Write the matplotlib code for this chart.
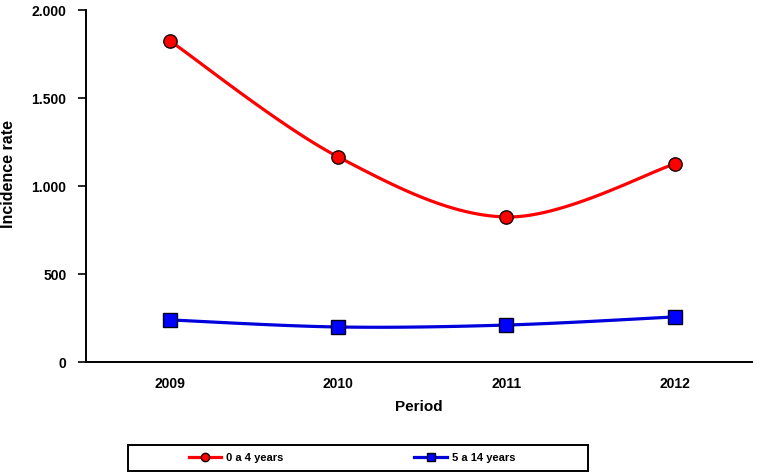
import numpy as np
import matplotlib
matplotlib.use('Agg')
import matplotlib.pyplot as plt
from matplotlib.ticker import FuncFormatter
from matplotlib.lines import Line2D
from matplotlib.patches import Rectangle

#---datos---#
periodos = ['2009', '2010', '2011', '2012']
edad_0_4 = [1824, 1165, 824, 1125]
edad_5_14 = [239, 199, 210, 256]
etiquetas = ['0 a 4 years', '5 a 14 years']

plt.rcParams['font.family'] = ['Liberation Sans', 'DejaVu Sans']
plt.rcParams['font.weight'] = 'bold'


def suavizar(xs, ys, n=30):
    # linea suavizada tipo Excel (Catmull-Rom entre los puntos)
    xs = np.asarray(xs, float)
    ys = np.asarray(ys, float)
    px = np.concatenate([[xs[0]], xs, [xs[-1]]])
    py = np.concatenate([[ys[0]], ys, [ys[-1]]])
    outx, outy = [], []
    for i in range(1, len(px) - 2):
        t = np.linspace(0, 1, n)
        for p, out in ((px, outx), (py, outy)):
            p0, p1, p2, p3 = p[i - 1], p[i], p[i + 1], p[i + 2]
            c1 = p1 + (p2 - p0) / 6
            c2 = p2 - (p3 - p1) / 6
            out.extend((1 - t) ** 3 * p1 + 3 * (1 - t) ** 2 * t * c1
                       + 3 * (1 - t) * t ** 2 * c2 + t ** 3 * p2)
    return np.array(outx), np.array(outy)


fig = plt.figure(figsize=(7.62, 4.75), dpi=100)
ax = fig.add_axes([86 / 762, 1 - 362 / 475, 666 / 762, 352 / 475])

x = np.arange(len(periodos))
sx, sy = suavizar(x, edad_0_4)
ax.plot(sx, sy, color='#ff0000', lw=2.3, zorder=2)
ax.plot(x, edad_0_4, ls='none', marker='o', ms=9.6, mfc='#ff0000',
        mec='#1a0000', mew=1.0, zorder=3)
sx, sy = suavizar(x, edad_5_14)
ax.plot(sx, sy, color='#0000dd', lw=2.3, zorder=2)
ax.plot(x, edad_5_14, ls='none', marker='s', ms=9.6, mfc='#0000ff',
        mec='#00001a', mew=1.0, zorder=3)

ax.set_xlim(-0.5, 3.46)
ax.set_ylim(0, 2000)
ax.set_yticks([0, 500, 1000, 1500, 2000])
ax.yaxis.set_major_formatter(FuncFormatter(lambda v, p: f'{int(v):,}'.replace(',', '.')))
ax.set_xticks(x)
ax.set_xticklabels(periodos)
ax.tick_params(axis='x', length=0, pad=11, labelsize=10)
ax.tick_params(axis='y', length=6, width=1.2, direction='out', pad=8, labelsize=10)

for lado in ['top', 'right']:
    ax.spines[lado].set_visible(False)
for lado in ['left', 'bottom']:
    ax.spines[lado].set_linewidth(1.4)

ax.set_xlabel('Period', fontsize=11, fontweight='bold', labelpad=6)
ax.set_ylabel('Incidence rate', fontsize=11.5, fontweight='bold')
ax.yaxis.set_label_coords((16 - 86) / 666, (362 - 174) / 352)

#---leyenda---#
manijas = [
    Line2D([], [], color='#ff0000', lw=2.3, marker='o', ms=6, mfc='#ff0000', mec='#1a0000'),
    Line2D([], [], color='#0000dd', lw=2.3, marker='s', ms=6, mfc='#0000ff', mec='#00001a'),
]
fig.patches.append(Rectangle((128 / 762, 1 - 471 / 475), 460 / 762, 26 / 475,
                             transform=fig.transFigure, fill=False,
                             edgecolor='black', lw=1.4))
fig.legend(manijas, etiquetas, ncol=2, loc='center',
           bbox_to_anchor=(352 / 762, 1 - 458 / 475), frameon=False,
           fontsize=8, handlelength=2.9, handletextpad=0.45, columnspacing=11.8)

plt.savefig('out.png', dpi=100)
